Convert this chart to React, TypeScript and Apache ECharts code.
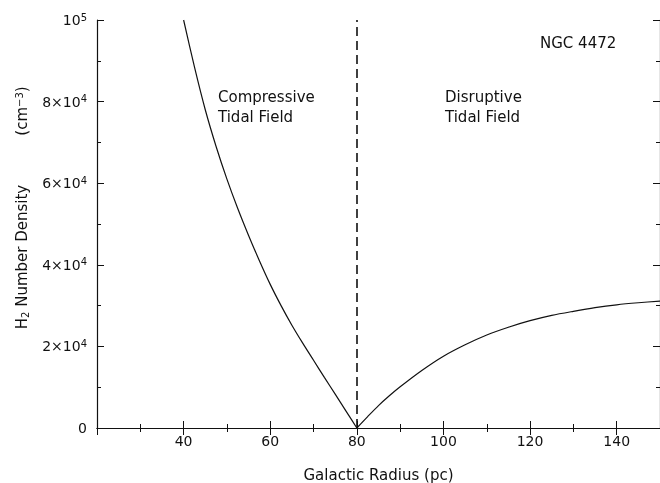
import React, { useEffect, useRef } from "react";
import * as echarts from "echarts";

const compressiveRadius = [40, 42.5, 45, 47.5, 50, 52.5, 55, 57.5, 60, 62.5, 65, 67.5, 70, 72.5, 75, 77.5, 80];
const compressiveDensity = [100000, 88500, 78000, 69000, 61000, 53800, 47200, 41000, 35200, 30000, 25200, 20800, 16600, 12400, 8300, 4150, 0];
const disruptiveRadius = [80, 82.5, 85, 87.5, 90, 95, 100, 105, 110, 115, 120, 125, 130, 135, 140, 145, 150];
const disruptiveDensity = [0, 2800, 5500, 7900, 10100, 14100, 17600, 20400, 22800, 24700, 26300, 27600, 28600, 29500, 30200, 30700, 31100];
const boundaryRadius = 80;
const annotations = [
  { text: "Compressive\nTidal Field", x: 218, y: 87 },
  { text: "Disruptive\nTidal Field", x: 445, y: 87 },
  { text: "NGC 4472", x: 540, y: 33 },
];
const yNameParts = [
  { text: "{b|H}{sub|2}{b| Number Density}", x: 22, y: 257 },
  { text: "{b|(cm}{s|−3}{b|)}", x: 22, y: 111 },
];

const FONT = "DejaVu Sans";
const INK = "#111";

export default function App() {
  const ref = useRef<HTMLDivElement>(null);
  useEffect(() => {
    if (!ref.current) return;
    const chart = echarts.init(ref.current, null, { renderer: "svg" });
    const axisCommon = {
      axisLine: { show: true, lineStyle: { color: INK, width: 1.2 } },
      axisTick: { show: true, inside: true, length: 7, lineStyle: { color: INK, width: 1 } },
      minorTick: { show: true, splitNumber: 2, length: 4, lineStyle: { color: INK, width: 1 } },
      splitLine: { show: false },
      minorSplitLine: { show: false },
    };
    const sup = { fontSize: 10, fontFamily: FONT, color: INK, verticalAlign: "top" as const, padding: [0, 0, 6, 0] };
    const base = { fontSize: 14, fontFamily: FONT, color: INK };
    const nameBase = { fontSize: 15, fontFamily: FONT, color: INK };
    const nameRich = {
      b: { fontSize: 15, fontFamily: FONT, fill: INK },
      s: { fontSize: 10, fontFamily: FONT, fill: INK, verticalAlign: "top" as const, padding: [0, 0, 6, 0] },
      sub: { fontSize: 10, fontFamily: FONT, fill: INK, verticalAlign: "bottom" as const, padding: [6, 0, 0, 0] },
    };
    chart.setOption({
      animation: false,
      grid: { left: 97, right: 0, top: 20, bottom: 55, containLabel: false, outerBoundsMode: "none" },
      xAxis: [
        {
          type: "value", min: 20, max: 150, interval: 20, position: "bottom",
          ...axisCommon,
          axisLabel: { show: true, fontSize: 14, fontFamily: FONT, color: INK, margin: 6, showMinLabel: false, showMaxLabel: false },
          name: "Galactic Radius (pc)", nameLocation: "middle", nameGap: 39,
          nameTextStyle: nameBase,
        },
        {
          type: "value", min: 20, max: 150, interval: 20, position: "top",
          ...axisCommon, axisLabel: { show: false },
        },
      ],
      yAxis: [
        {
          type: "value", min: 0, max: 100000, interval: 20000, position: "left",
          ...axisCommon,
          axisLabel: {
            show: true, margin: 10,
            formatter: (v: number) => {
              if (v === 0) return "{b|0}";
              if (v === 100000) return "{b|10}{s|5}";
              return `{b|${v / 10000}×10}{s|4}`;
            },
            rich: { b: base, s: sup },
          },
        },
        {
          type: "value", min: 0, max: 100000, interval: 20000, position: "right",
          ...axisCommon, axisLabel: { show: false },
        },
      ],
      series: [
        {
          type: "line", xAxisIndex: 0, yAxisIndex: 0, showSymbol: false, smooth: 0.3,
          lineStyle: { color: INK, width: 1.2 },
          data: compressiveRadius.map((r, i) => [r, compressiveDensity[i]]),
          markLine: {
            silent: true, symbol: "none", label: { show: false },
            lineStyle: { color: INK, type: [9, 5], width: 1.6 },
            data: [[{ coord: [boundaryRadius, 0] }, { coord: [boundaryRadius, 100000] }]],
          },
        },
        {
          type: "line", xAxisIndex: 0, yAxisIndex: 0, showSymbol: false, smooth: 0.3,
          lineStyle: { color: INK, width: 1.2 },
          data: disruptiveRadius.map((r, i) => [r, disruptiveDensity[i]]),
        },
      ],
      graphic: [
        ...annotations.map((a) => ({
          type: "text", left: a.x, top: a.y,
          style: { text: a.text, fontSize: 15, fontFamily: FONT, fill: INK, lineHeight: 20 },
        })),
        ...yNameParts.map((p) => ({
          type: "text", x: p.x, y: p.y, rotation: Math.PI / 2,
          style: { text: p.text, rich: nameRich, align: "center", verticalAlign: "middle" },
        })),
      ],
    });
    return () => chart.dispose();
  }, []);
  return <div ref={ref} style={{ position: "fixed", left: 0, top: 0, width: 660, height: 483 }} />;
}
